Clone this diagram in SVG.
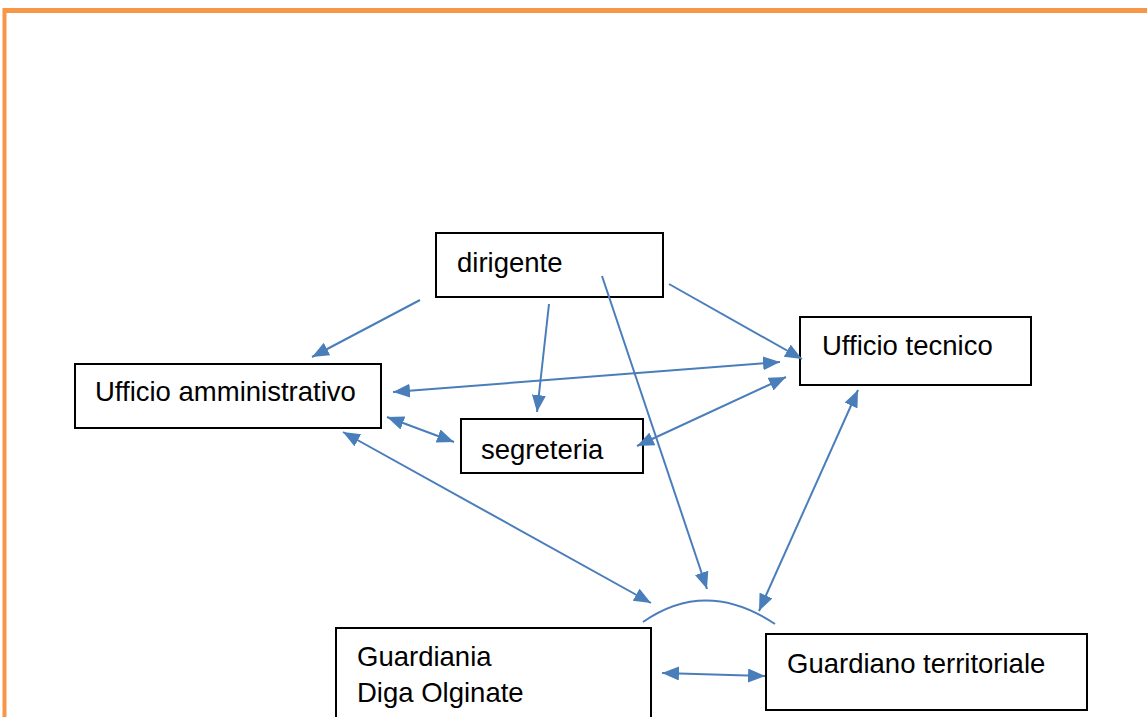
<svg xmlns="http://www.w3.org/2000/svg" width="1147" height="717" viewBox="0 0 1147 717">
  <style>
    .box { fill: #ffffff; stroke: #000000; stroke-width: 2; }
    .lbl { font-family: "Liberation Sans", Arial, sans-serif; font-size: 27.5px; fill: #000000; }
    .conn { fill: none; stroke: #4a7ebb; stroke-width: 2; }
    .frame { fill: none; stroke: #f79646; }
  </style>
  <defs>
    <marker id="arr" markerUnits="userSpaceOnUse" markerWidth="19" markerHeight="15" refX="17" refY="7" orient="auto-start-reverse" viewBox="0 0 19 15">
      <path d="M0,0 L17,7 L0,14 z" fill="#4a7ebb"/>
    </marker>
  </defs>
  <rect width="1147" height="717" fill="#ffffff"/>
  <g id="frame">
    <line class="frame" x1="3" y1="10.5" x2="1147" y2="10.5" stroke-width="5"/>
    <line class="frame" x1="4.5" y1="8" x2="4.5" y2="717" stroke-width="4"/>
  </g>
  <g id="dirigente">
    <rect class="box" x="436" y="233" width="227" height="64"/>
    <text class="lbl" x="457" y="272">dirigente</text>
  </g>
  <g id="ufficio-amministrativo">
    <rect class="box" x="75" y="364" width="306" height="64"/>
    <text class="lbl" x="95" y="401">Ufficio amministrativo</text>
  </g>
  <g id="segreteria">
    <rect class="box" x="461" y="419" width="182" height="54"/>
    <text class="lbl" x="481" y="459">segreteria</text>
  </g>
  <g id="ufficio-tecnico">
    <rect class="box" x="800" y="317" width="231" height="68"/>
    <text class="lbl" x="822" y="355">Ufficio tecnico</text>
  </g>
  <g id="guardiania">
    <rect class="box" x="336" y="628" width="315" height="100"/>
    <text class="lbl" x="357" y="666">Guardiania</text>
    <text class="lbl" x="357" y="702">Diga Olginate</text>
  </g>
  <g id="guardiano-territoriale">
    <rect class="box" x="766" y="634" width="321" height="76"/>
    <text class="lbl" x="787" y="673">Guardiano territoriale</text>
  </g>
  <g id="connectors">
    <line class="conn" x1="420" y1="300" x2="312" y2="357" marker-end="url(#arr)"/>
    <line class="conn" x1="549" y1="304" x2="537" y2="412" marker-end="url(#arr)"/>
    <line class="conn" x1="602" y1="276" x2="707" y2="589" marker-end="url(#arr)"/>
    <line class="conn" x1="669" y1="284" x2="802" y2="359" marker-end="url(#arr)"/>
    <line class="conn" x1="393" y1="392" x2="780" y2="362" marker-start="url(#arr)" marker-end="url(#arr)"/>
    <line class="conn" x1="387" y1="417" x2="454" y2="442" marker-start="url(#arr)" marker-end="url(#arr)"/>
    <line class="conn" x1="637" y1="446" x2="786" y2="377" marker-start="url(#arr)" marker-end="url(#arr)"/>
    <line class="conn" x1="343" y1="432" x2="651" y2="603" marker-start="url(#arr)" marker-end="url(#arr)"/>
    <line class="conn" x1="858" y1="390" x2="759" y2="611" marker-start="url(#arr)" marker-end="url(#arr)"/>
    <line class="conn" x1="662" y1="673" x2="765" y2="676" marker-start="url(#arr)" marker-end="url(#arr)"/>
    <path class="conn" d="M643,622 Q706,578 775,624"/>
  </g>
</svg>
